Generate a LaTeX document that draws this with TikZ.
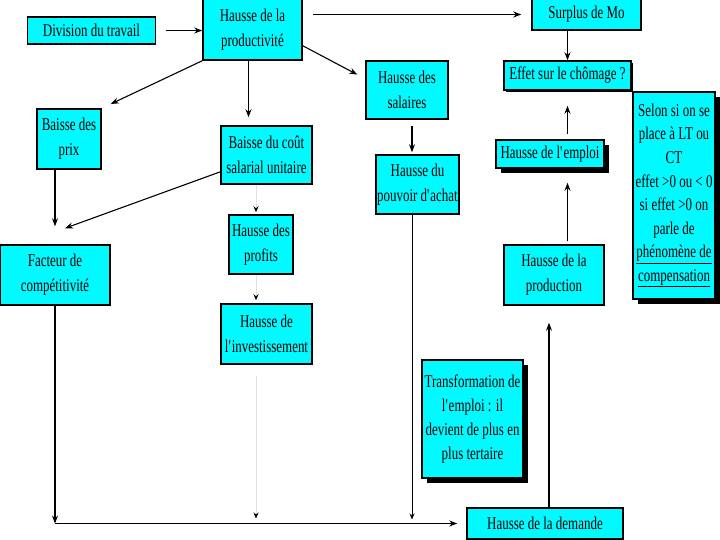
\documentclass[tikz,border=0pt]{standalone}
\usepackage{fontspec}
\setmainfont{Liberation Serif}[FakeStretch=0.72]
\usetikzlibrary{
		calc,
		positioning,
		arrows.meta,
		shadows
	}
\definecolor{boxcyan}{RGB}{0,250,255}
\newcommand{\boxfont}{\fontsize{18}{25}\selectfont}
\tikzset{
		>={Stealth[length=8pt,width=6pt]},
		box/.style={draw=black, line width=1.5pt, fill=boxcyan, align=center, inner sep=1pt, font=\boxfont},
		shade5/.style={drop shadow={shadow xshift=5pt, shadow yshift=-5pt, fill=black, opacity=1}},
		shade2/.style={drop shadow={shadow xshift=2pt, shadow yshift=-2pt, fill=black, opacity=1}},
		link/.style={->, line width=1.1pt},
		biglink/.style={->, line width=1.8pt},
		faint/.style={-{Stealth[length=6pt,width=5pt,color=black]}, draw=black!12, line width=0.9pt}
	}

\begin{document}
\begin{tikzpicture}[x=1pt, y=-1pt] % (each unit = 1px of the 720x540 page, y going down)
		\useasboundingbox (0,0) rectangle (720,540);
		% left column
		\node[box, minimum width=128, minimum height=27] (div) at (91.5,30.5) {Division du travail};
		\node[box, minimum width=64, minimum height=60] (prix) at (69,139) {Baisse des\\prix};
		\node[box, minimum width=110, minimum height=60] (facteur) at (55,275) {Facteur de\\compétitivité};
		% middle column
		\node[box, minimum width=99, minimum height=61] (prod) at (252.5,29.5) {Hausse de la\\productivité};
		\node[box, minimum width=91, minimum height=58] (cout) at (266.5,155) {Baisse du coût\\salarial unitaire};
		\node[box, minimum width=64, minimum height=59] (profits) at (261,244.5) {Hausse des\\profits};
		\node[box, minimum width=91, minimum height=60] (invest) at (266.5,334) {Hausse de\\l\textquotesingle investissement};
		\coordinate (col) at (256,0); % the faint vertical line
		% salaries
		\node[box, minimum width=82, minimum height=58] (salaires) at (407,90) {Hausse des\\salaires};
		\node[box, minimum width=81, minimum height=59] (pouvoir) at (417.5,184.5) {Hausse du\\pouvoir d\textquotesingle achat};
		\node[box, shade5, minimum width=101, minimum height=118, font=\fontsize{18}{24}\selectfont] (transfo) at (472.5,419) {Transformation de\\l\textquotesingle emploi : il\\devient de plus en\\plus tertaire};
		% right column
		\node[box, minimum width=109, minimum height=31] (surplus) at (586.5,14.5) {Surplus de Mo};
		\node[box, shade2, minimum width=127, minimum height=29] (effet) at (567.5,75.5) {Effet sur le chômage ?};
		\node[box, shade5, minimum width=108, minimum height=28] (emploi) at (550,154) {Hausse de l\textquotesingle emploi};
		\node[box, minimum width=100, minimum height=60] (production) at (554,275) {Hausse de la\\production};
		\node[box, minimum width=156, minimum height=31] (demande) at (545,523.5) {Hausse de la demande};
		\node[box, shade5, minimum width=82, minimum height=207, font=\fontsize{18}{23.6}\selectfont] (selon) at (674,195.5)
		  {Selon si on se\\place à LT ou\\CT\\effet >0 ou < 0\\si effet >0 on\\parle de\\\underline{phénomène de}\\\underline{compensation}};

		% connectors
		\draw[biglink, shorten <=10pt] (div.east) -- (prod.west |- div.east);
		\draw[link, shorten <=10pt, shorten >=10pt] (prod.east |- surplus.west) -- (surplus.west);
		\draw[link, shorten >=10pt] (prod.south west) -- (prix.north east);
		\draw[link, shorten >=8pt] ([xshift=-4pt]prod.south) -- ([xshift=-4pt]prod.south |- cout.north);
		\draw[link, shorten >=9pt] ([yshift=15pt]prod.south east) -- (salaires.165);
		\draw[link, shorten >=18pt] (facteur.north |- prix.south) -- (facteur.north);
		\draw[link] (cout.200) -- ([shift={(10pt,16pt)}]facteur.north);
		\draw[faint, shorten >=2pt] (col |- cout.south) -- (col |- profits.north);
		\draw[faint, shorten >=3pt] (col |- profits.south) -- (col |- invest.north);
		\draw[faint, shorten <=11pt, shorten >=5pt] (col |- invest.south) -- (col |- demande.west);
		\draw[link, shorten <=6pt, shorten >=2pt] ([xshift=5pt]salaires.south) -- ([xshift=5pt]salaires.south |- pouvoir.north);
		\draw[-{Stealth[length=6pt,width=5pt]}, line width=1pt, shorten >=4pt] ([xshift=-5.5pt]pouvoir.south) -- ([xshift=-5.5pt]pouvoir.south |- demande.west);
		\draw[link] (facteur.south) -- (facteur.south |- demande.west);
		\draw[biglink, shorten >=9pt] (facteur.south |- demande.west) -- (demande.west);
		\draw[link, shorten >=17pt] ([xshift=4pt]demande.north) -- ([xshift=4pt]demande.north |- production.south);
		\draw[link, shorten <=3pt, shorten >=14pt] (effet.south |- production.north) -- (effet.south |- emploi.south);
		\draw[link, shorten <=5pt, shorten >=15pt] (effet.south |- emploi.north) -- (effet.south);
		\draw[link] (effet.north |- surplus.south) -- (effet.north);
	\end{tikzpicture}
\end{document}
